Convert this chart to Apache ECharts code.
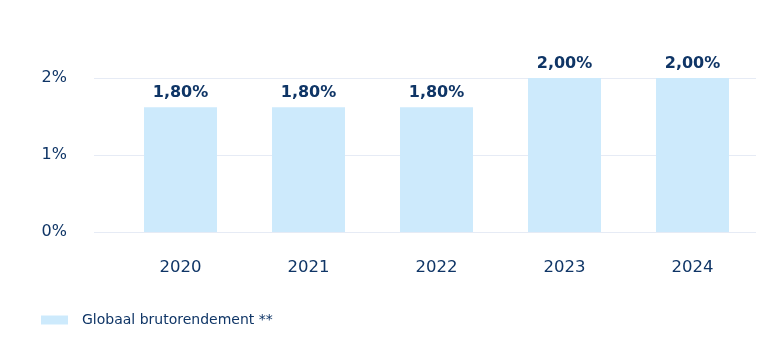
<!DOCTYPE html>
<html><head><meta charset="utf-8">
<script src="https://cdn.jsdelivr.net/npm/echarts@6/dist/echarts.min.js"></script>
<style>html,body{margin:0;padding:0;background:#fff}#c{width:772px;height:363px}</style>
</head><body><div id="c"></div>
<script>
var categories = ['2020','2021','2022','2023','2024'];
var barValues = [1.62, 1.62, 1.62, 2.0, 2.0];
var barLabels = ['1,80%','1,80%','1,80%','2,00%','2,00%'];
var yTickLabels = ['0%','1%','2%'];
var seriesName = 'Globaal brutorendement **';

var navy = '#0f3566';
var font = 'DejaVu Sans';
var chart = echarts.init(document.getElementById('c'), null, {renderer:'canvas'});
chart.setOption({
  animation: false,
  textStyle: {fontFamily: font},
  legend: {
    left: 41, top: 313, padding: 0, itemWidth: 27, itemHeight: 9, itemGap: 14,
    textStyle: {color: navy, fontSize: 14, fontFamily: font, padding: [0,0,0,9]},
    data: [{name: seriesName, icon: 'rect'}]
  },
  grid: [
    {left: 94, right: 16, top: 78, height: 154},
    {left: 116.5, width: 640, top: 78, height: 154}
  ],
  xAxis: [
    {gridIndex: 0, type: 'category', data: categories, show: false},
    {gridIndex: 1, type: 'category', data: categories,
     axisLine: {show: false}, axisTick: {show: false},
     axisLabel: {color: navy, fontSize: 16.5, margin: 27, fontFamily: font}}
  ],
  yAxis: [
    {gridIndex: 0, type: 'value', min: 0, max: 2, interval: 1,
     axisLine: {show: false}, axisTick: {show: false},
     splitLine: {lineStyle: {color: '#e6ebf5', width: 1}},
     axisLabel: {color: navy, fontSize: 16, margin: 27, fontFamily: font,
       formatter: function(v){ return yTickLabels[Math.round(v)]; }}},
    {gridIndex: 1, type: 'value', min: 0, max: 2, interval: 1, show: false, splitLine: {show: false}}
  ],
  series: [{
    name: seriesName, type: 'bar', xAxisIndex: 1, yAxisIndex: 1,
    data: barValues, barWidth: 73,
    itemStyle: {color: '#cdeafc'},
    label: {show: true, position: 'top', distance: 6, color: navy,
      fontSize: 16, fontWeight: 'bold', fontFamily: font,
      formatter: function(p){ return barLabels[p.dataIndex]; }}
  }]
});
</script></body></html>
